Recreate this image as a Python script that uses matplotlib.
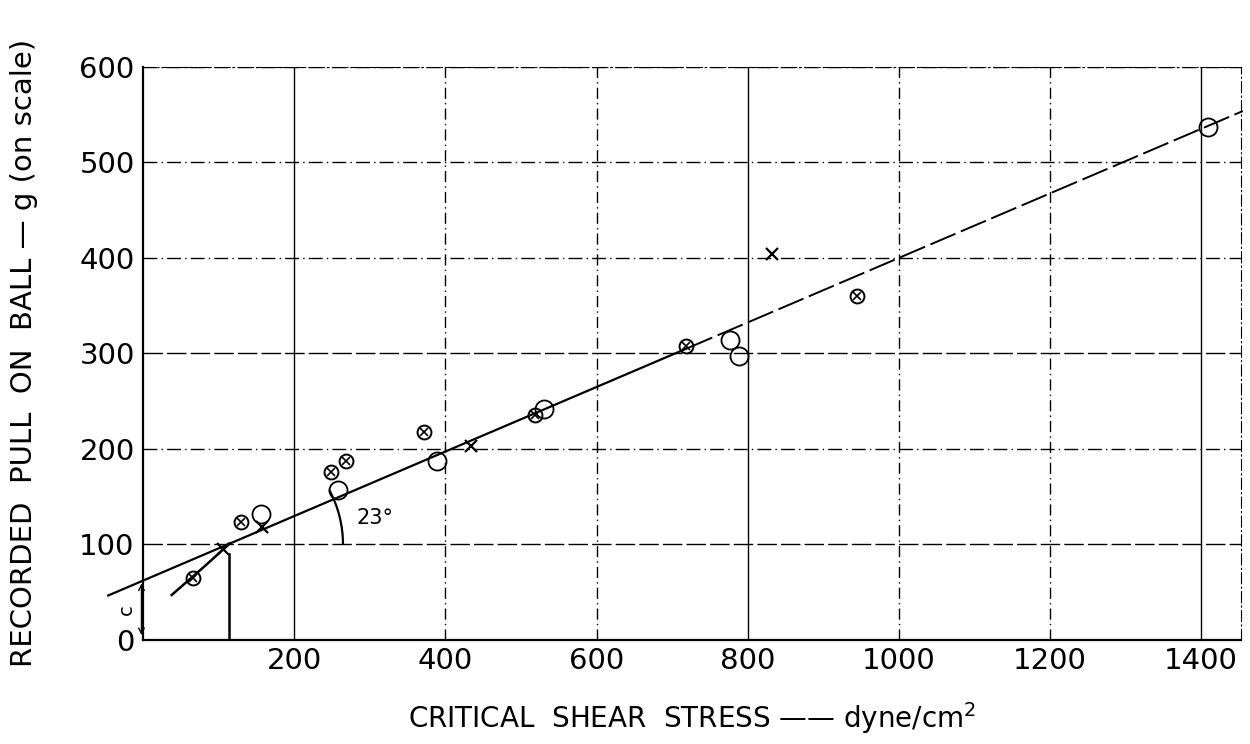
import numpy as np
import matplotlib
matplotlib.use("Agg")
import matplotlib.pyplot as plt
from matplotlib.patches import Arc

# readings (critical shear stress, recorded pull)
cross_circle_x = [66, 130, 249, 268, 372, 518, 718, 944]
cross_circle_y = [65, 123, 176, 187, 218, 236, 308, 360]
circle_x = [156, 258, 389, 531, 776, 788, 1409]
circle_y = [132, 157, 187, 242, 314, 297, 537]
cross_x = [106, 158, 434, 832]
cross_y = [95, 118, 203, 404]

# fitted line (intercept, slope) and the steeper initial part
fit_a, fit_b = 62, 0.338
fit_x_solid = [-46, 720]
fit_x_dash = [720, 1455]
init_x = [38, 80, 115]
init_y = [47, 76, 101]

xticks = [200, 400, 600, 800, 1000, 1200, 1400]
yticks = [0, 100, 200, 300, 400, 500, 600]

plt.rcParams['font.family'] = ['DejaVu Sans']
fig = plt.figure(figsize=(12.5, 7.44), dpi=100)
ax = fig.add_axes([0.1144, 0.14, 0.878, 0.77])
ax.set_xlim(0, 1452)
ax.set_ylim(0, 600)

# grid, drawn by hand to mimic the mixed line styles of the original
solid_v = [200, 800, 1400]
for x in xticks:
    ls = '-' if x in solid_v else (0, (8, 3, 1, 3))
    ax.axvline(x, color='black', lw=1.0, ls=ls)
for y in yticks[1:]:
    ls = (0, (14, 3)) if y in (100, 300) else (0, (10, 3, 1, 3))
    ax.axhline(y, color='black', lw=1.0, ls=ls)

for s in ['top', 'right']:
    ax.spines[s].set_linestyle((0, (10, 3, 1, 3)))
for s in ['left', 'bottom']:
    ax.spines[s].set_linewidth(1.6)

# fitted line
fx = np.array(fit_x_solid)
ax.plot(fx, fit_a + fit_b * fx, color='black', lw=1.6, clip_on=False)
fx = np.array(fit_x_dash)
ax.plot(fx, fit_a + fit_b * fx, color='black', lw=1.4, ls=(0, (14, 3)), clip_on=False)
ax.plot(init_x, init_y, color='black', lw=1.8)
ax.plot([114, 114], [0, 90], color='black', lw=1.8)

# points
ax.plot(cross_circle_x, cross_circle_y, 'o', mfc='none', mec='black', ms=10, mew=1.4)
ax.plot(cross_circle_x, cross_circle_y, 'x', color='black', ms=6, mew=1.2)
ax.plot(circle_x, circle_y, 'o', mfc='none', mec='black', ms=13, mew=1.3)
ax.plot(cross_x, cross_y, 'x', color='black', ms=9, mew=1.6)

# 23 degree arc at the point where the fit crosses 100
fig.canvas.draw()
vx = (100 - fit_a) / fit_b
p0 = ax.transData.transform((vx, 100))
p1 = ax.transData.transform((vx + 100, 100))
r_px = 115
w = 2 * r_px / (p1[0] - p0[0]) * 100
ph = ax.transData.transform((vx, 200))
h = 2 * r_px / (ph[1] - p0[1]) * 100
ax.add_patch(Arc((vx, 100), w, h, theta1=0, theta2=23, color='black', lw=1.6))
ax.text(283, 128, '23°', fontsize=15, va='center', ha='left')

# intercept marker
ax.annotate('', xy=(-2, 62), xytext=(-2, 2),
            arrowprops=dict(arrowstyle='<->', lw=1.0, color='black'),
            annotation_clip=False)
ax.text(-22, 32, 'c', fontsize=14, rotation=90, ha='center', va='center')

ax.set_xticks(xticks)
ax.set_yticks(yticks)
ax.tick_params(length=0, labelsize=21, pad=6)
ax.tick_params(axis='x', pad=5)
ax.set_xlabel('CRITICAL  SHEAR  STRESS —— dyne/cm$^2$', fontsize=20, labelpad=18)
ax.set_ylabel('RECORDED  PULL  ON  BALL — g (on scale)', fontsize=21, labelpad=30)

fig.savefig('out.png', dpi=100)
